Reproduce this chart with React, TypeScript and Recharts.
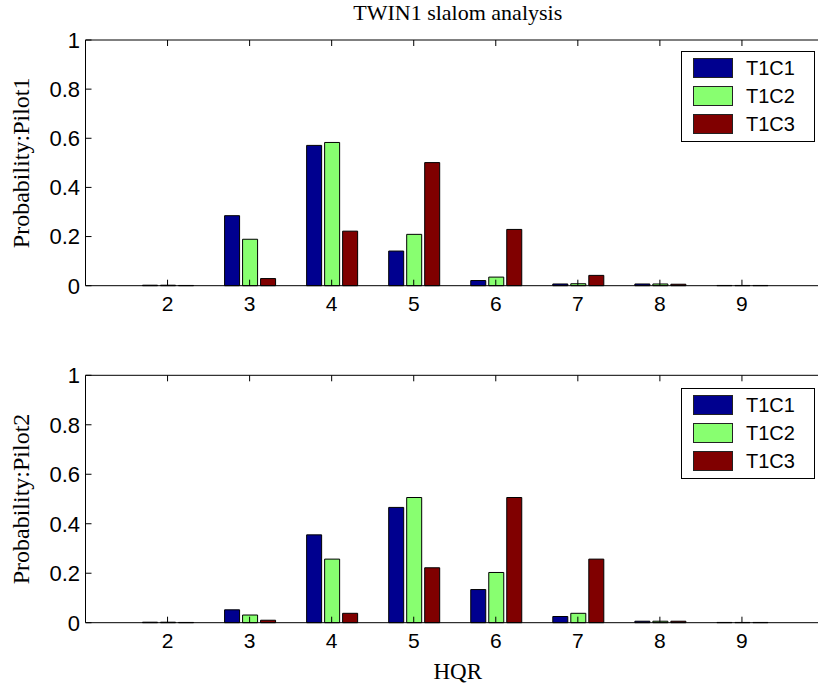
import { BarChart, Bar, XAxis, YAxis, Legend } from "recharts";

// HQR rating on the x axis
const hqr = [2, 3, 4, 5, 6, 7, 8, 9];
const hqrTicks = [2, 3, 4, 5, 6, 7, 8, 9];
const probTicks = [0, 0.2, 0.4, 0.6, 0.8, 1];

const seriesNames = ["T1C1", "T1C2", "T1C3"];
const seriesColors = ["#00008F", "#88FF70", "#800000"];

// pilot 1
const pilot1C1 = [0.002, 0.285, 0.571, 0.141, 0.021, 0.007, 0.007, 0.001];
const pilot1C2 = [0.002, 0.189, 0.583, 0.209, 0.035, 0.008, 0.007, 0.001];
const pilot1C3 = [0.001, 0.029, 0.222, 0.501, 0.229, 0.042, 0.006, 0.001];

// pilot 2
const pilot2C1 = [0.002, 0.052, 0.355, 0.466, 0.134, 0.025, 0.006, 0.001];
const pilot2C2 = [0.002, 0.031, 0.257, 0.506, 0.203, 0.038, 0.006, 0.001];
const pilot2C3 = [0.001, 0.010, 0.038, 0.222, 0.506, 0.257, 0.006, 0.001];

const toRows = (a: number[], b: number[], c: number[]) =>
  hqr.map((h, i) => ({ hqr: h, T1C1: a[i], T1C2: b[i], T1C3: c[i] }));

const pilot1 = toRows(pilot1C1, pilot1C2, pilot1C3);
const pilot2 = toRows(pilot2C1, pilot2C2, pilot2C3);

const SANS = "'Liberation Sans', Arial, sans-serif";
const SERIF = "'Liberation Serif', 'Times New Roman', serif";
const TICK_LEN = 6;

// matlab style: tick marks point into the plot box
const LeftTick = ({ x, y, payload }: any) => (
  <g>
    <line x1={x} y1={y} x2={x + TICK_LEN} y2={y} stroke="#000" />
    <text x={x - 5.5} y={y} dy="0.36em" textAnchor="end" fontFamily={SANS} fontSize={22} fill="#000">
      {String(payload.value)}
    </text>
  </g>
);

const BottomTick = ({ x, y, payload }: any) => (
  <g>
    <line x1={x} y1={y} x2={x} y2={y - TICK_LEN} stroke="#000" />
    <text x={x} y={y + 25} textAnchor="middle" fontFamily={SANS} fontSize={21} fill="#000">
      {String(payload.value)}
    </text>
  </g>
);

const TopTick = ({ x, y }: any) => (
  <line x1={x} y1={y} x2={x} y2={y + TICK_LEN} stroke="#000" />
);

const RightTick = ({ x, y }: any) => (
  <line x1={x} y1={y} x2={x - TICK_LEN} y2={y} stroke="#000" />
);

function LegendBox({ payload }: any) {
  const items = payload && payload.length ? payload : seriesNames.map((n, i) => ({ value: n, color: seriesColors[i] }));
  return (
    <div style={{
      position: "relative", width: 134, height: 91, boxSizing: "border-box",
      border: "1px solid #000", background: "#fff",
    }}>
      {items.map((p: any, i: number) => (
        <div key={p.value}>
          <div style={{
            position: "absolute", left: 11, top: 6 + i * 28.4, width: 40, height: 20,
            boxSizing: "border-box", border: "1px solid #222", background: p.color,
          }} />
          <div style={{
            position: "absolute", left: 64, top: 5 + i * 28.4, lineHeight: "22px",
            fontSize: 20, fontFamily: SANS, color: "#000",
          }}>{p.value}</div>
        </div>
      ))}
    </div>
  );
}

interface PanelProps {
  data: { hqr: number; T1C1: number; T1C2: number; T1C3: number }[];
  height: number;
  marginTop: number;
  axisHeight: number;
  legendGap: number;
  yLabel: string;
  title?: string;
  xLabel?: string;
}

function Panel({ data, height, marginTop, axisHeight, legendGap, yLabel, title, xLabel }: PanelProps) {
  return (
    <BarChart
      width={830}
      height={height}
      data={data}
      margin={{ top: marginTop, right: 5, bottom: 0, left: 0 }}
      barSize={15}
      barGap={3}
    >
      <XAxis
        dataKey="hqr"
        type="number"
        domain={[1, 10]}
        ticks={hqrTicks}
        allowDataOverflow
        height={axisHeight}
        tickSize={0}
        tickMargin={0}
        tickLine={false}
        tick={BottomTick}
        stroke="#000"
        label={xLabel ? {
          content: ({ viewBox }: any) => (
            <text x={viewBox.x + viewBox.width / 2 + 3} y={viewBox.y + 56.6} textAnchor="middle"
              fontFamily={SERIF} fontSize={23} fill="#000">{xLabel}</text>
          ),
        } : undefined}
      />
      <XAxis
        xAxisId="top"
        orientation="top"
        dataKey="hqr"
        type="number"
        domain={[1, 10]}
        ticks={hqrTicks}
        allowDataOverflow
        height={1}
        tickSize={0}
        tickMargin={0}
        tickLine={false}
        tick={TopTick}
        stroke="#000"
        label={title ? {
          content: ({ viewBox }: any) => (
            <text x={viewBox.x + viewBox.width / 2 + 3} y={viewBox.y - 19} textAnchor="middle"
              fontFamily={SERIF} fontSize={22} fill="#000">{title}</text>
          ),
        } : undefined}
      />
      <YAxis
        domain={[0, 1]}
        ticks={probTicks}
        width={85.5}
        tickSize={0}
        tickMargin={0}
        tickLine={false}
        tick={LeftTick}
        stroke="#000"
        label={{
          content: ({ viewBox }: any) => {
            const x = viewBox.x + 29;
            const y = viewBox.y + viewBox.height / 2;
            return (
              <text x={x} y={y} transform={`rotate(-90, ${x}, ${y})`} textAnchor="middle"
                fontFamily={SERIF} fontSize={24} fill="#000">{yLabel}</text>
            );
          },
        }}
      />
      <YAxis
        yAxisId="right"
        orientation="right"
        domain={[0, 1]}
        ticks={probTicks}
        width={1}
        tickSize={0}
        tickMargin={0}
        tickLine={false}
        tick={RightTick}
        stroke="#000"
      />
      <Legend
        layout="vertical"
        align="center"
        verticalAlign="middle"
        content={LegendBox}
        wrapperStyle={{ left: 681, top: marginTop + legendGap, width: 134, height: 91 }}
      />
      {seriesNames.map((name, i) => (
        <Bar
          key={name}
          dataKey={name}
          fill={seriesColors[i]}
          stroke="#000"
          strokeWidth={1}
          isAnimationActive={false}
        />
      ))}
    </BarChart>
  );
}

export default function App() {
  return (
    <div style={{ position: "absolute", left: 0, top: 0, width: 818, height: 686, overflow: "hidden", background: "#fff" }}>
      <div style={{ position: "absolute", left: 0, top: 0 }}>
        <Panel data={pilot1} height={320} marginTop={39} axisHeight={34.3} legendGap={11.7}
          yLabel="Probability:Pilot1" title="TWIN1 slalom analysis" />
      </div>
      <div style={{ position: "absolute", left: 0, top: 330 }}>
        <Panel data={pilot2} height={356} marginTop={44.3} axisHeight={63.3} legendGap={13.4}
          yLabel="Probability:Pilot2" xLabel="HQR" />
      </div>
    </div>
  );
}
